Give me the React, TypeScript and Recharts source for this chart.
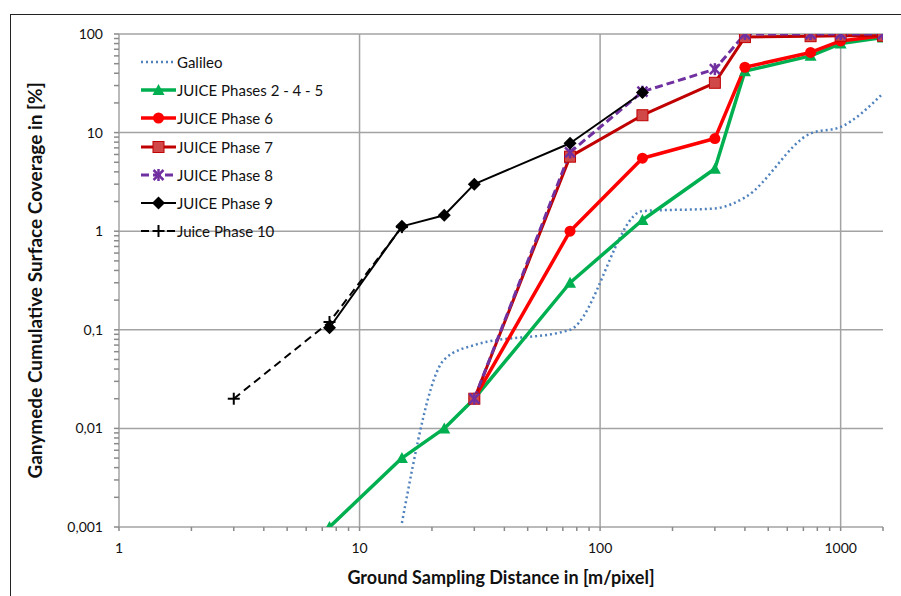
import React from 'react'
import { LineChart, Line, XAxis, YAxis, CartesianGrid, Legend } from 'recharts'

// Ground sampling distance [m/pixel] and cumulative coverage [%]
const galileoX = [15, 22.5, 30, 75, 150, 300, 400, 750, 1000, 1500]
const galileoY = [0.0011, 0.05, 0.07, 0.1, 1.6, 1.7, 2.2, 9.8, 11.4, 25]

const phase245X = [7.5, 15, 22.5, 30, 75, 150, 300, 400, 750, 1000, 1500]
const phase245Y = [0.001, 0.005, 0.01, 0.02, 0.3, 1.3, 4.3, 42, 60, 80, 92]

const phaseX = [30, 75, 150, 300, 400, 750, 1000, 1500]
const phase6Y = [0.02, 1.0, 5.5, 8.7, 46, 65, 85, 96]
const phase7Y = [0.02, 5.7, 15, 32, 93, 95, 96, 96]
const phase8Y = [0.02, 6.3, 26, 44, 100, 100, 100, 100]

const phase9X = [7.5, 15, 22.5, 30, 75, 150]
const phase9Y = [0.105, 1.12, 1.45, 3.0, 7.8, 25.5]

const phase10X = [3, 7.5, 15]
const phase10Y = [0.02, 0.12, 1.1]

const xMajor = [1, 10, 100, 1000]
const xLabels = ['1', '10', '100', '1000']
const yMajor = [0.001, 0.01, 0.1, 1, 10, 100]
const yLabels = ['0,001', '0,01', '0,1', '1', '10', '100']
const multiples = [1, 2, 3, 4, 5, 6, 7, 8, 9]

const xTicks = [...xMajor.slice(0, 3).flatMap((d) => multiples.map((m) => d * m)), 1000, 1500]
const yTicks = [...yMajor.slice(0, 5).flatMap((d) => multiples.map((m) => d * m)), 100]

type Pt = { x: number; y: number }
const zip = (xs: number[], ys: number[]): Pt[] => xs.map((x, i) => ({ x, y: ys[i] }))

const gray = '#a3a3a3'
const tickGray = '#8a8a8a'
const font = 'Lato, "Open Sans", sans-serif'

const near = (a: number, list: number[]) => list.findIndex((v) => Math.abs(v - a) / v < 1e-6)

function XTick({ x, y, payload }: any) {
  const i = near(payload.value, xMajor)
  return (
    <g>
      <line x1={x} x2={x} y1={y} y2={y + 4} stroke={tickGray} strokeWidth={1.5} />
      {i >= 0 && (
        <text x={x} y={y + 26} textAnchor="middle" fontSize={14} fill="#111" fontFamily={font}>
          {xLabels[i]}
        </text>
      )}
    </g>
  )
}

function YTick({ x, y, payload }: any) {
  const i = near(payload.value, yMajor)
  return (
    <g>
      <line x1={x - 5} x2={x} y1={y} y2={y} stroke={tickGray} strokeWidth={1.5} />
      {i >= 0 && (
        <text x={x - 16} y={y + 5} textAnchor="end" fontSize={14} fill="#111" fontFamily={font}>
          {yLabels[i]}
        </text>
      )}
    </g>
  )
}

// markers
const triangle = (cx: number, cy: number, c: string) => (
  <polygon points={`${cx},${cy - 6} ${cx + 6},${cy + 5} ${cx - 6},${cy + 5}`} fill={c} />
)
const circle = (cx: number, cy: number, c: string) => <circle cx={cx} cy={cy} r={5.5} fill={c} />
const square = (cx: number, cy: number, c: string) => (
  <rect x={cx - 5.5} y={cy - 5.5} width={11} height={11} fill="#d04848" stroke={c} strokeWidth={1} />
)
const asterisk = (cx: number, cy: number, c: string) => (
  <g stroke={c} strokeWidth={2.5}>
    <line x1={cx - 5} y1={cy - 5} x2={cx + 5} y2={cy + 5} />
    <line x1={cx - 5} y1={cy + 5} x2={cx + 5} y2={cy - 5} />
    <line x1={cx} y1={cy - 6} x2={cx} y2={cy + 6} />
  </g>
)
const diamond = (cx: number, cy: number, c: string) => (
  <polygon points={`${cx},${cy - 6.5} ${cx + 6.5},${cy} ${cx},${cy + 6.5} ${cx - 6.5},${cy}`} fill={c} />
)
const plus = (cx: number, cy: number, c: string) => (
  <g stroke={c} strokeWidth={2}>
    <line x1={cx - 6} y1={cy} x2={cx + 6} y2={cy} />
    <line x1={cx} y1={cy - 6} x2={cx} y2={cy + 6} />
  </g>
)

type Series = {
  name: string
  data: Pt[]
  color: string
  width: number
  dash?: string
  smooth?: boolean
  marker?: (cx: number, cy: number, c: string) => React.ReactElement
}

const series: Series[] = [
  { name: 'Galileo', data: zip(galileoX, galileoY), color: '#4f81bd', width: 2.5, dash: '2 3', smooth: true },
  { name: 'JUICE Phases 2 - 4 - 5', data: zip(phase245X, phase245Y), color: '#00b050', width: 3.5, marker: triangle },
  { name: 'JUICE Phase 6', data: zip(phaseX, phase6Y), color: '#ff0000', width: 3.5, marker: circle },
  { name: 'JUICE Phase 7', data: zip(phaseX, phase7Y), color: '#c00000', width: 3, marker: square },
  { name: 'JUICE Phase 8', data: zip(phaseX, phase8Y), color: '#7030a0', width: 3, dash: '8 4', marker: asterisk },
  { name: 'JUICE Phase 9', data: zip(phase9X, phase9Y), color: '#000000', width: 2, marker: diamond },
  { name: 'Juice Phase 10', data: zip(phase10X, phase10Y), color: '#000000', width: 2, dash: '8 5', marker: plus },
]

function LegendBox() {
  return (
    <div style={{ fontFamily: font, fontSize: 15, color: '#111' }}>
      {series.map((s) => (
        <div key={s.name} style={{ display: 'flex', alignItems: 'center', height: 28.2 }}>
          <svg width={37} height={16}>
            <line x1={1} x2={36} y1={8} y2={8} stroke={s.color} strokeWidth={s.width} strokeDasharray={s.dash} />
            {s.marker && s.marker(18.5, 8, s.color)}
          </svg>
          <span style={{ whiteSpace: 'nowrap' }}>{s.name}</span>
        </div>
      ))}
    </div>
  )
}

export default function App() {
  return (
    <div style={{ position: 'fixed', left: 0, top: 0, width: 901, height: 596, overflow: 'hidden', background: '#fff' }}>
      <div
        style={{
          position: 'absolute', left: 10, top: 14, width: 900, height: 600,
          border: '1.5px solid #222', boxSizing: 'border-box',
        }}
      />
      <LineChart width={901} height={596} margin={{ top: 34, right: 18, bottom: 9, left: 8 }}>
        <CartesianGrid
          stroke={gray}
          strokeWidth={1.5}
          verticalValues={[10, 100, 1000]}
          horizontalValues={[0.01, 0.1, 1, 10, 100]}
        />
        <XAxis
          type="number"
          dataKey="x"
          scale="log"
          domain={[1, 1500]}
          allowDataOverflow
          ticks={xTicks}
          interval={0}
          tick={<XTick />}
          tickSize={0}
          tickMargin={0}
          tickLine={false}
          axisLine={{ stroke: gray, strokeWidth: 1.5 }}
          height={60}
          label={{
            value: 'Ground Sampling Distance in [m/pixel]',
            position: 'insideBottom',
            offset: 3,
            fontSize: 18,
            fontWeight: 'bold',
            fill: '#111',
            fontFamily: font,
          }}
        />
        <YAxis
          type="number"
          dataKey="y"
          scale="log"
          domain={[0.001, 100]}
          allowDataOverflow
          ticks={yTicks}
          interval={0}
          tick={<YTick />}
          tickSize={0}
          tickMargin={0}
          tickLine={false}
          axisLine={{ stroke: gray, strokeWidth: 1.5 }}
          width={111}
          label={{
            value: 'Ganymede Cumulative Surface Coverage in [%]',
            angle: -90,
            position: 'insideLeft',
            offset: 27,
            fontSize: 19,
            fontWeight: 'bold',
            fill: '#111',
            fontFamily: font,
            style: { textAnchor: 'middle' },
          }}
        />
        <Legend
          layout="vertical"
          align="center"
          verticalAlign="middle"
          content={() => <LegendBox />}
          wrapperStyle={{ left: 140, top: 48, width: 240 }}
        />
        {series.map((s) => (
          <Line
            key={s.name}
            name={s.name}
            data={s.data}
            dataKey="y"
            type={s.smooth ? 'monotone' : 'linear'}
            stroke={s.color}
            strokeWidth={s.width}
            strokeDasharray={s.dash}
            strokeLinejoin="round"
            dot={s.marker ? (p: any) => <g key={p.index}>{s.marker!(p.cx, p.cy, s.color)}</g> : false}
            activeDot={false}
            isAnimationActive={false}
          />
        ))}
      </LineChart>
    </div>
  )
}
